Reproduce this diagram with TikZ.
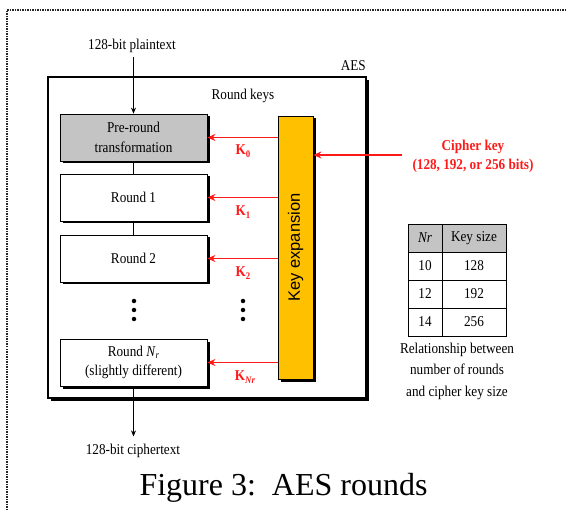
\documentclass[tikz,border=0pt]{standalone}
\usepackage{fontspec}
\setmainfont{Liberation Serif}
\newfontfamily\diafont[FakeStretch=0.88]{Liberation Serif}
\newfontfamily\kexpfont{Liberation Sans}
\usetikzlibrary{arrows.meta,shadows}
\definecolor{keyred}{HTML}{FF1A1A}
\definecolor{keyorange}{HTML}{FFC000}
\definecolor{boxgray}{HTML}{C4C4C4}
\begin{document}
\begin{tikzpicture}[x=1pt,y=-1pt,
  txt/.style={font=\diafont\fontsize{15}{18}\selectfont, inner sep=0pt, align=center},
  redtxt/.style={txt, text=keyred, font=\diafont\fontsize{15}{19}\selectfont\bfseries},
  roundbox/.style={draw=black, line width=0.8pt, fill=white, minimum width=147pt, minimum height=47pt, inner sep=0pt, align=center, font=\diafont\fontsize{15}{19.5}\selectfont,
    general shadow={fill=black, shadow xshift=2.5pt, shadow yshift=-2.5pt}},
  flow/.style={draw=black, line width=0.7pt},
  flowarrow/.style={flow, -{Stealth[length=6pt,width=5pt]}},
  keyarrow/.style={draw=keyred, line width=1.3pt, -{Stealth[length=8pt,width=7pt]}},
  dotmark/.style={circle, fill=black, inner sep=0pt, minimum size=4.5pt},
  cell/.style={draw=black, line width=0.8pt, minimum width=34pt, minimum height=28pt, inner sep=0pt, font=\diafont\fontsize{15}{16}\selectfont}
]
\useasboundingbox (0,0) rectangle (567,510);
% outer dotted frame
\coordinate (fbl) at (7,510);
\coordinate (ftl) at (7,10);
\coordinate (ftr) at (567,10);
\draw[line width=1.5pt, black!85, densely dotted] (fbl) -- (ftl) -- (ftr);

% AES box
\node[draw=black, line width=1.2pt, fill=white, minimum width=318pt, minimum height=321pt,
  general shadow={fill=black, shadow xshift=3pt, shadow yshift=-3pt}] (aes) at (207,237.5) {};
\node[txt, anchor=south east] (aeslbl) at (366,71) {AES};
\node[txt] (rkeys) at (243,96) {Round keys};

% rounds
\node[roundbox, fill=boxgray, general shadow={fill=none,draw=none}] (pre) at (133.5,137.5) {Pre-round\\transformation};
\node[roundbox] (r1) at (133.5,197.5) {Round 1};
\node[roundbox] (r2) at (133.5,258.5) {Round 2};
\node[roundbox] (rn) at (133.5,362.5) {Round \textit{N}\raisebox{-0.35ex}{\fontsize{10}{10}\selectfont\textit{r}}\\(slightly different)};

% key expansion
\node[draw=black, line width=0.8pt, fill=keyorange, minimum width=35pt, minimum height=263pt, inner sep=0pt,
  general shadow={fill=black, shadow xshift=2.5pt, shadow yshift=-2.5pt}] (kexp) at (295.5,247.5) {};
\node[inner sep=0pt, rotate=90, font=\kexpfont\fontsize{16.5}{18}\selectfont] (kexplbl) at (kexp.center) {Key expansion};

% plaintext / ciphertext
\node[txt] (pt) at (132,46) {128-bit plaintext};
\node[txt] (ct) at (133,451) {128-bit ciphertext};
\draw[flowarrow] (pt.south -| pre.north) ++(0,4) -- (pre.north);
\draw[flow] (pre.south) -- (r1.north);
\draw[flow] (r1.south) -- (r2.north);
\draw[flowarrow] (rn.south) -- ++(0,50) coordinate (ctip);

% dots
\foreach \x/\n in {134/a,243/b}{
  \node[dotmark] (dot\n1) at (\x,301) {};
  \node[dotmark] (dot\n2) at (\x,310) {};
  \node[dotmark] (dot\n3) at (\x,319) {};
}

% key arrows
\draw[keyarrow] (kexp.west |- pre.east) -- (pre.east);
\draw[keyarrow] (kexp.west |- r1.east) -- (r1.east);
\draw[keyarrow] (kexp.west |- r2.east) -- (r2.east);
\draw[keyarrow] (kexp.west |- rn.east) -- (rn.east);
\node[redtxt] (k0) at (243,151) {K\raisebox{-0.4ex}{\fontsize{10}{10}\selectfont 0}};
\node[redtxt] (k1) at (243,212) {K\raisebox{-0.4ex}{\fontsize{10}{10}\selectfont 1}};
\node[redtxt] (k2) at (243,273) {K\raisebox{-0.4ex}{\fontsize{10}{10}\selectfont 2}};
\node[redtxt] (kn) at (245,377) {K\raisebox{-0.4ex}{\fontsize{10}{10}\selectfont\itshape Nr}};

% cipher key
\node[redtxt] (ck) at (473,156) {Cipher key\\(128, 192, or 256 bits)};
\coordinate (ckstart) at (402,155);
\draw[keyarrow] (ckstart) -- (kexp.east |- ckstart);

% table
\node[cell, fill=boxgray] (h1) at (425,238) {\textit{Nr}};
\node[cell, fill=boxgray, minimum width=64pt] (h2) at (474,238) {Key size};
\node[cell] (a1) at (425,266) {10};
\node[cell, minimum width=64pt] (a2) at (474,266) {128};
\node[cell] (b1) at (425,294) {12};
\node[cell, minimum width=64pt] (b2) at (474,294) {192};
\node[cell] (c1) at (425,322) {14};
\node[cell, minimum width=64pt] (c2) at (474,322) {256};
\node[txt, font=\diafont\fontsize{15}{21.5}\selectfont] (rel) at (457,371) {Relationship between\\number of rounds\\and cipher key size};

% caption
\node[inner sep=0pt, font=\fontsize{32}{36}\selectfont] (cap) at (283.5,488) {Figure 3:\ \ AES rounds};
\end{tikzpicture}
\end{document}
